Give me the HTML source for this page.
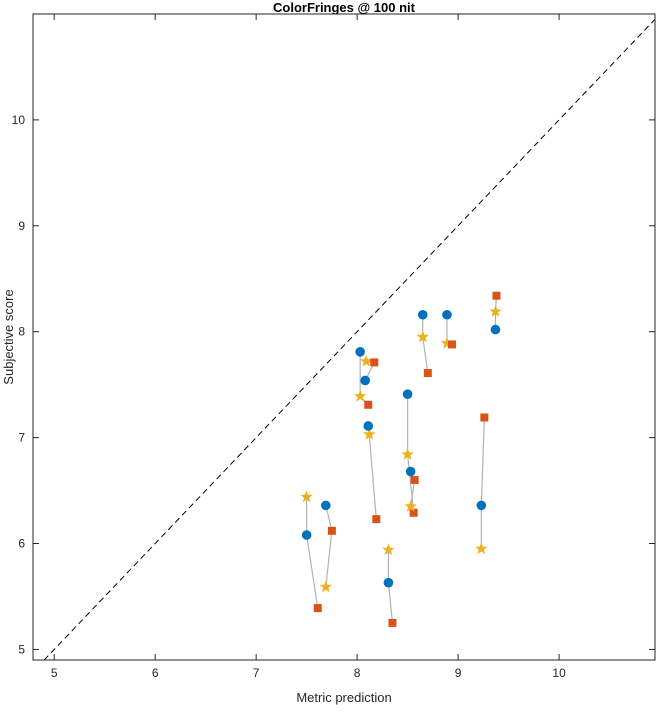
<!DOCTYPE html>
<html><head><meta charset="utf-8"><style>
body{margin:0;background:#fff}
svg text{font-family:"Liberation Sans",Arial,sans-serif;fill:#262626}
</style></head><body>
<svg id="chart" width="656" height="708" xmlns="http://www.w3.org/2000/svg">
<rect width="656" height="708" fill="#fff"/>
<text x="344" y="12" text-anchor="middle" font-size="13" font-weight="bold" style="fill:#000">ColorFringes @ 100 nit</text>
<text x="344" y="702" text-anchor="middle" font-size="13">Metric prediction</text>
<text x="0" y="0" transform="translate(13,337) rotate(-90)" text-anchor="middle" font-size="13">Subjective score</text>
<g id="plot"></g>
</svg>
<script>
const xTicks=[5,6,7,8,9,10];
const yTicks=[5,6,7,8,9,10];
const circleX=[7.50,7.69,8.31,8.11,8.03,8.08,8.50,8.53,8.65,8.89,9.37,9.23];
const circleY=[6.08,6.36,5.63,7.11,7.81,7.54,7.41,6.68,8.16,8.16,8.02,6.36];
const starX=[7.50,7.69,8.31,8.12,8.03,8.09,8.50,8.53,8.65,8.89,9.37,9.23];
const starY=[6.44,5.59,5.94,7.03,7.39,7.72,6.84,6.35,7.95,7.89,8.19,5.95];
const squareX=[7.61,7.75,8.35,8.19,8.11,8.17,8.56,8.57,8.70,8.94,9.38,9.26];
const squareY=[5.39,6.12,5.25,6.23,7.31,7.71,6.29,6.60,7.61,7.88,8.34,7.19];
const L=33,R=655,T=14,B=660,xmin=4.79,xmax=10.95,ymin=4.9,ymax=11.0;
const sx=v=>L+(v-xmin)/(xmax-xmin)*(R-L);
const sy=v=>B-(v-ymin)/(ymax-ymin)*(B-T);
const NS="http://www.w3.org/2000/svg";
const g=document.getElementById('plot');
function mk(t,a){const e=document.createElementNS(NS,t);for(const k in a)e.setAttribute(k,a[k]);g.appendChild(e);return e;}
// diagonal
const d0=Math.max(xmin,ymin),d1=Math.min(xmax,ymax);
let dl=mk('line',{x1:sx(d0),y1:sy(d0),x2:sx(d1),y2:sy(d1),stroke:'#000','stroke-width':1,'stroke-dasharray':'6,4'});


// box
let bx=mk('rect',{x:L,y:T,width:R-L,height:B-T,fill:'none',stroke:'#262626','stroke-width':1});


xTicks.forEach(v=>{const x=sx(v);
mk('line',{x1:x,y1:B,x2:x,y2:B-6,stroke:'#262626'});mk('line',{x1:x,y1:T,x2:x,y2:T+6,stroke:'#262626'});
const t=mk('text',{x:x,y:B+17,'text-anchor':'middle','font-size':12});t.textContent=v;

});
yTicks.forEach(v=>{const y=sy(v);
mk('line',{x1:L,y1:y,x2:L+6,y2:y,stroke:'#262626'});mk('line',{x1:R,y1:y,x2:R-6,y2:y,stroke:'#262626'});
const t=mk('text',{x:L-8,y:y+4,'text-anchor':'end','font-size':12});t.textContent=v;

});
function star(cx,cy,r){let p=[];for(let i=0;i<10;i++){const a=-Math.PI/2+i*Math.PI/5,rr=i%2?r*0.42:r;p.push((cx+rr*Math.cos(a)).toFixed(1)+','+(cy+rr*Math.sin(a)).toFixed(1));}return p.join(' ');}
for(let i=0;i<circleX.length;i++){
 const pts=[[circleX[i],circleY[i]],[starX[i],starY[i]],[squareX[i],squareY[i]]].sort((a,b)=>b[1]-a[1]);
 const pl=mk('polyline',{points:pts.map(p=>sx(p[0])+','+sy(p[1])).join(' '),fill:'none',stroke:'#b3b3b3','stroke-width':1.2});
 
 
}
for(let i=0;i<circleX.length;i++){
 const s=mk('polygon',{points:star(sx(starX[i]),sy(starY[i]),6.5),fill:'#EDB120'});
 
 
 const q=mk('rect',{x:sx(squareX[i])-4,y:sy(squareY[i])-4,width:8,height:8,fill:'#D95319'});
 
 
 const c=mk('circle',{cx:sx(circleX[i]),cy:sy(circleY[i]),r:4.8,fill:'#0072BD'});
 
 
}
</script>
</body></html>
